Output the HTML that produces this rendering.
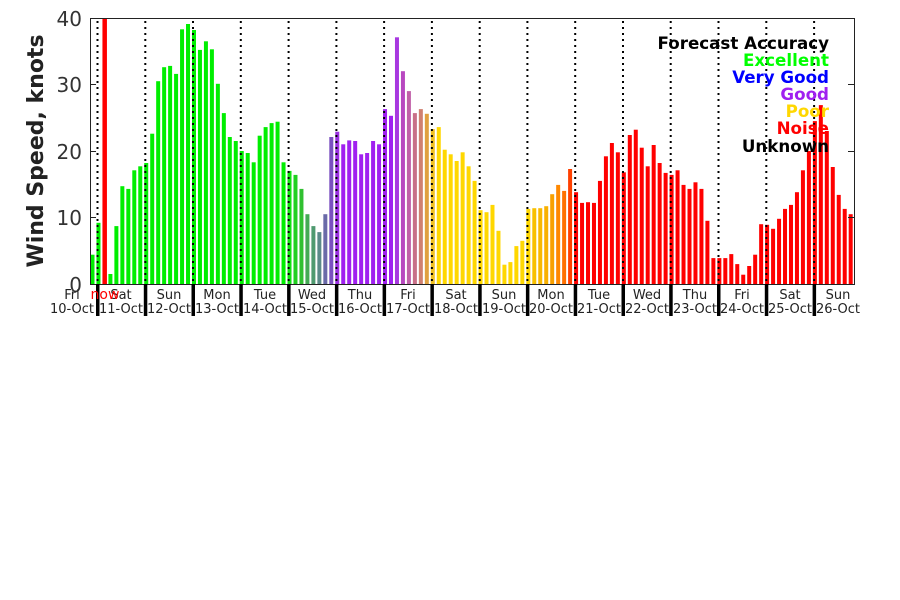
<!DOCTYPE html>
<html><head><meta charset="utf-8"><style>
html,body{margin:0;padding:0;background:#fff;width:900px;height:600px;overflow:hidden}
svg{display:block}
text{font-family:"DejaVu Sans","Liberation Sans",sans-serif}
</style></head><body>
<svg id="s" width="900" height="600" viewBox="0 0 900 600" xmlns="http://www.w3.org/2000/svg">
<g id="bars"></g>
<g id="dots" stroke="#000" stroke-width="2" stroke-dasharray="2 4"></g>
<rect x="90.5" y="18.5" width="764" height="266" fill="none" stroke="#222" stroke-width="1"/>
<g stroke="#222" stroke-width="1">
<line x1="90" y1="217.5" x2="96" y2="217.5"/><line x1="90" y1="151.5" x2="96" y2="151.5"/><line x1="90" y1="84.5" x2="96" y2="84.5"/>
<line x1="848" y1="217.5" x2="854" y2="217.5"/><line x1="848" y1="151.5" x2="854" y2="151.5"/><line x1="848" y1="84.5" x2="854" y2="84.5"/>
</g>
<g id="ticks" fill="#000"></g>
<g font-size="20" fill="#333" text-anchor="end">
<text x="82" y="292">0</text><text x="82" y="225">10</text><text x="82" y="159">20</text><text x="82" y="92">30</text><text x="82" y="26">40</text>
</g>
<text transform="translate(43,151) rotate(-90)" font-size="22" font-weight="bold" fill="#222" text-anchor="middle">Wind Speed, knots</text>
<g font-size="13" fill="#222" text-anchor="middle">
<text x="72" y="299">Fri</text><text x="72" y="313">10-Oct</text>
<text x="121" y="299">Sat</text><text x="121" y="313">11-Oct</text>
<text x="169" y="299">Sun</text><text x="169" y="313">12-Oct</text>
<text x="217" y="299">Mon</text><text x="217" y="313">13-Oct</text>
<text x="265" y="299">Tue</text><text x="265" y="313">14-Oct</text>
<text x="312" y="299">Wed</text><text x="312" y="313">15-Oct</text>
<text x="360" y="299">Thu</text><text x="360" y="313">16-Oct</text>
<text x="408" y="299">Fri</text><text x="408" y="313">17-Oct</text>
<text x="456" y="299">Sat</text><text x="456" y="313">18-Oct</text>
<text x="504" y="299">Sun</text><text x="504" y="313">19-Oct</text>
<text x="551" y="299">Mon</text><text x="551" y="313">20-Oct</text>
<text x="599" y="299">Tue</text><text x="599" y="313">21-Oct</text>
<text x="647" y="299">Wed</text><text x="647" y="313">22-Oct</text>
<text x="695" y="299">Thu</text><text x="695" y="313">23-Oct</text>
<text x="742" y="299">Fri</text><text x="742" y="313">24-Oct</text>
<text x="790" y="299">Sat</text><text x="790" y="313">25-Oct</text>
<text x="838" y="299">Sun</text><text x="838" y="313">26-Oct</text>
</g>
<text x="105" y="299" font-size="14" fill="#f00" text-anchor="middle">now</text>
<g font-size="16.7" font-weight="bold" text-anchor="end">
<text x="829" y="49" fill="#000">Forecast Accuracy</text>
<text x="829" y="66" fill="#00ff00">Excellent</text>
<text x="829" y="83" fill="#0000ff">Very Good</text>
<text x="829" y="100" fill="#a020f0">Good</text>
<text x="829" y="117" fill="#ffd700">Poor</text>
<text x="829" y="134" fill="#ff0000">Noise</text>
<text x="829" y="152" fill="#000">Unknown</text>
</g>
</svg>
<script>
var v=[4.4,9.2,40,1.5,8.7,14.7,14.3,17.1,17.7,18.2,22.6,30.5,32.6,32.8,31.6,38.3,39.1,38.2,35.2,36.5,35.3,30.1,25.7,22.1,21.5,20,19.7,18.3,22.3,23.6,24.2,24.4,18.3,17,16.4,14.3,10.5,8.7,7.8,10.5,22.1,22.9,21,21.6,21.5,19.5,19.7,21.5,21,26.3,25.3,37.1,32,29,25.7,26.3,25.6,23.3,23.6,20.2,19.5,18.5,19.8,17.7,15.5,11.1,10.8,11.9,8,2.9,3.3,5.7,6.5,11.3,11.4,11.4,11.7,13.5,14.9,14,17.3,13.8,12.2,12.3,12.2,15.5,19.2,21.2,19.8,16.8,22.4,23.2,20.5,17.7,20.9,18.2,16.7,16.4,17.1,14.9,14.3,15.3,14.3,9.5,3.9,3.9,3.9,4.5,3,1.4,2.7,4.4,9,8.9,8.3,9.8,11.3,11.9,13.8,17.1,20,24.5,26.9,23,17.6,13.4,11.3,10.5];
var special={33:"#10e010",34:"#20d020",35:"#30c030",36:"#44aa55",37:"#4f9a70",38:"#5a8a88",39:"#6a6aa8",40:"#7a50c0",41:"#9a30e0",
51:"#a838e0",52:"#b848c0",53:"#c060a8",54:"#c87088",55:"#d08070",56:"#e0a040",57:"#f0c020",
74:"#f8c000",75:"#f8b800",76:"#f8b000",77:"#f8a000",78:"#ff8800",79:"#ff7000",80:"#ff4000"};
function col(i){if(i===2)return"#ff0000";if(special[i])return special[i];
if(i<33)return"#00ee00";if(i<51)return"#a020f0";if(i<74)return"#ffd700";return"#ff0000";}
var g=document.getElementById("bars"),h="";
for(var i=0;i<v.length;i++){var x=90.5+i*5.97,t=284-v[i]*6.65;
h+='<rect x="'+x.toFixed(2)+'" y="'+t.toFixed(1)+'" width="'+(i===2?4.5:4)+'" height="'+(284-t).toFixed(1)+'" fill="'+col(i)+'"/>';}
g.innerHTML=h;
var d="",tk="";
for(var k=0;k<16;k++){var bx=97.5+k*47.77;
d+='<line x1="'+bx.toFixed(1)+'" y1="21" x2="'+bx.toFixed(1)+'" y2="284"/>';
tk+='<rect x="'+(bx-1.5).toFixed(1)+'" y="284" width="3.5" height="32"/>';}
document.getElementById("dots").innerHTML=d;
document.getElementById("ticks").innerHTML=tk;
</script>
</body></html>
